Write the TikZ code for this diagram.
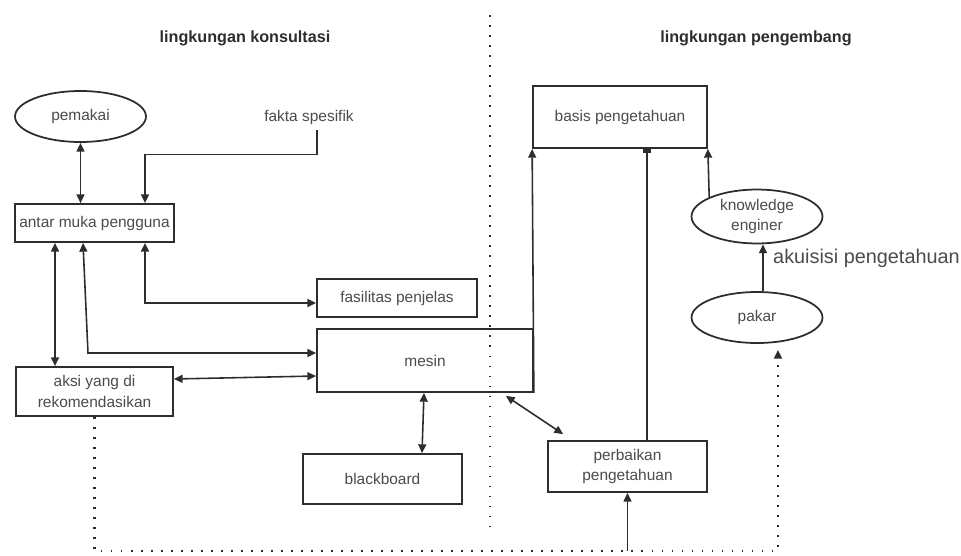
\documentclass[tikz,border=0pt]{standalone}
\usepackage{fontspec}
\setmainfont{Liberation Sans}
\usetikzlibrary{shapes.geometric,arrows.meta,positioning,calc}
\definecolor{inkgrey}{RGB}{45,45,45}
\definecolor{txtgrey}{RGB}{75,75,75}

\begin{document}
\begin{tikzpicture}[
    x=0.02cm, y=-0.02cm, >={Triangle[length=5pt,width=4.5pt]},
    bx/.style={rectangle, draw=inkgrey, line width=1pt, align=center, text=txtgrey,
               font=\fontsize{8.8}{11.5}\selectfont, inner sep=2pt},
    el/.style={ellipse, draw=inkgrey, line width=1pt, align=center, text=txtgrey,
               font=\fontsize{8.8}{11.5}\selectfont, inner sep=1pt,
               minimum width=2.62cm, minimum height=1.02cm},
    lbl/.style={text=txtgrey, font=\fontsize{8.8}{11.5}\selectfont},
    ttl/.style={text=inkgrey, font=\fontsize{9.2}{11}\selectfont\bfseries},
    arr/.style={->, line width=0.9pt, inkgrey},
    darr/.style={<->, line width=0.9pt, inkgrey},
    dots/.style={line width=1.4pt, inkgrey, dash pattern=on 1pt off 4.7pt}
]
\useasboundingbox (0,0) rectangle (961,555);

% two environments
\node[ttl] (t1) at (245,38) {lingkungan konsultasi};
\node[ttl] (t2) at (756,38) {lingkungan pengembang};
\draw[dots] (490,15) -- (490,527);

% consultation side
\node[el] (usr) at (80.5,116.5) {pemakai};
\node[lbl] (fakta) at (309,117) {fakta spesifik};
\node[bx, minimum width=3.18cm, minimum height=0.76cm] (ui)     at (94.5,223)  {antar muka pengguna};
\node[bx, minimum width=3.20cm, minimum height=0.76cm] (fasil)  at (397,298)   {fasilitas penjelas};
\node[bx, minimum width=4.32cm, minimum height=1.26cm] (mesin)  at (425,360.5) {mesin};
\node[bx, minimum width=3.14cm, minimum height=0.98cm] (aksi)   at (94.5,391.5) {aksi yang di\\rekomendasikan};
\node[bx, minimum width=3.18cm, minimum height=1.00cm] (black)  at (382.5,479) {blackboard};

% development side
\node[bx, minimum width=3.48cm, minimum height=1.24cm] (basis)  at (620,117)   {basis pengetahuan};
\node[el] (eng)   at (757,216.5) {knowledge\\enginer};
\node[el] (pakar) at (757,317.5) {pakar};
\node[bx, minimum width=3.18cm, minimum height=1.02cm] (perb)   at (627.5,466.5) {perbaikan\\pengetahuan};
\node[anchor=west, text=txtgrey, font=\fontsize{11.3}{13}\selectfont] (akui) at (767,258) {akuisisi pengetahuan};

\draw[darr] (usr.south) -- (usr.south |- ui.north);
\draw[arr] ([xshift=0.16cm]fakta.south) -- ++(0,24) -| ([xshift=1.01cm]ui.north);
\draw[darr] ([xshift=-0.79cm]ui.south) -- ([xshift=-0.79cm]aksi.north);
\draw[darr] ([xshift=-0.23cm]ui.south) -- ([yshift=0.15cm]mesin.west -| 88,0) -- ([yshift=0.15cm]mesin.west);
\draw[darr, line width=1.3pt] ([xshift=1.01cm]ui.south) |- ([yshift=-0.1cm]fasil.west);
\draw[darr] ([yshift=0.25cm]aksi.east) -- ([yshift=-0.31cm]mesin.west);
\draw[darr] ([xshift=-0.02cm]mesin.south) -- ([xshift=0.79cm]black.north);
\draw[arr] (mesin.south east) -- (basis.south west);
\draw[darr] ([xshift=-0.56cm,yshift=-0.06cm]mesin.south east) -- ([xshift=0.32cm,yshift=0.12cm]perb.north west);
\draw[-{Rectangle[length=2.5pt,width=5pt]}, line width=0.9pt, inkgrey] ([xshift=0.39cm]perb.north) -- ([xshift=0.39cm]perb.north |- basis.south);
\draw[arr] (eng.158) -- (basis.south east);
\draw[arr] ([xshift=0.12cm]pakar.north) -- ([xshift=0.12cm]eng.south);
\draw[dots, ->] (aksi.south) -- ++(0,134) -| ([xshift=0.42cm,yshift=-0.12cm]pakar.south);
\draw[arr] ([yshift=-1.16cm]perb.south) -- (perb.south);
\end{tikzpicture}
\end{document}
